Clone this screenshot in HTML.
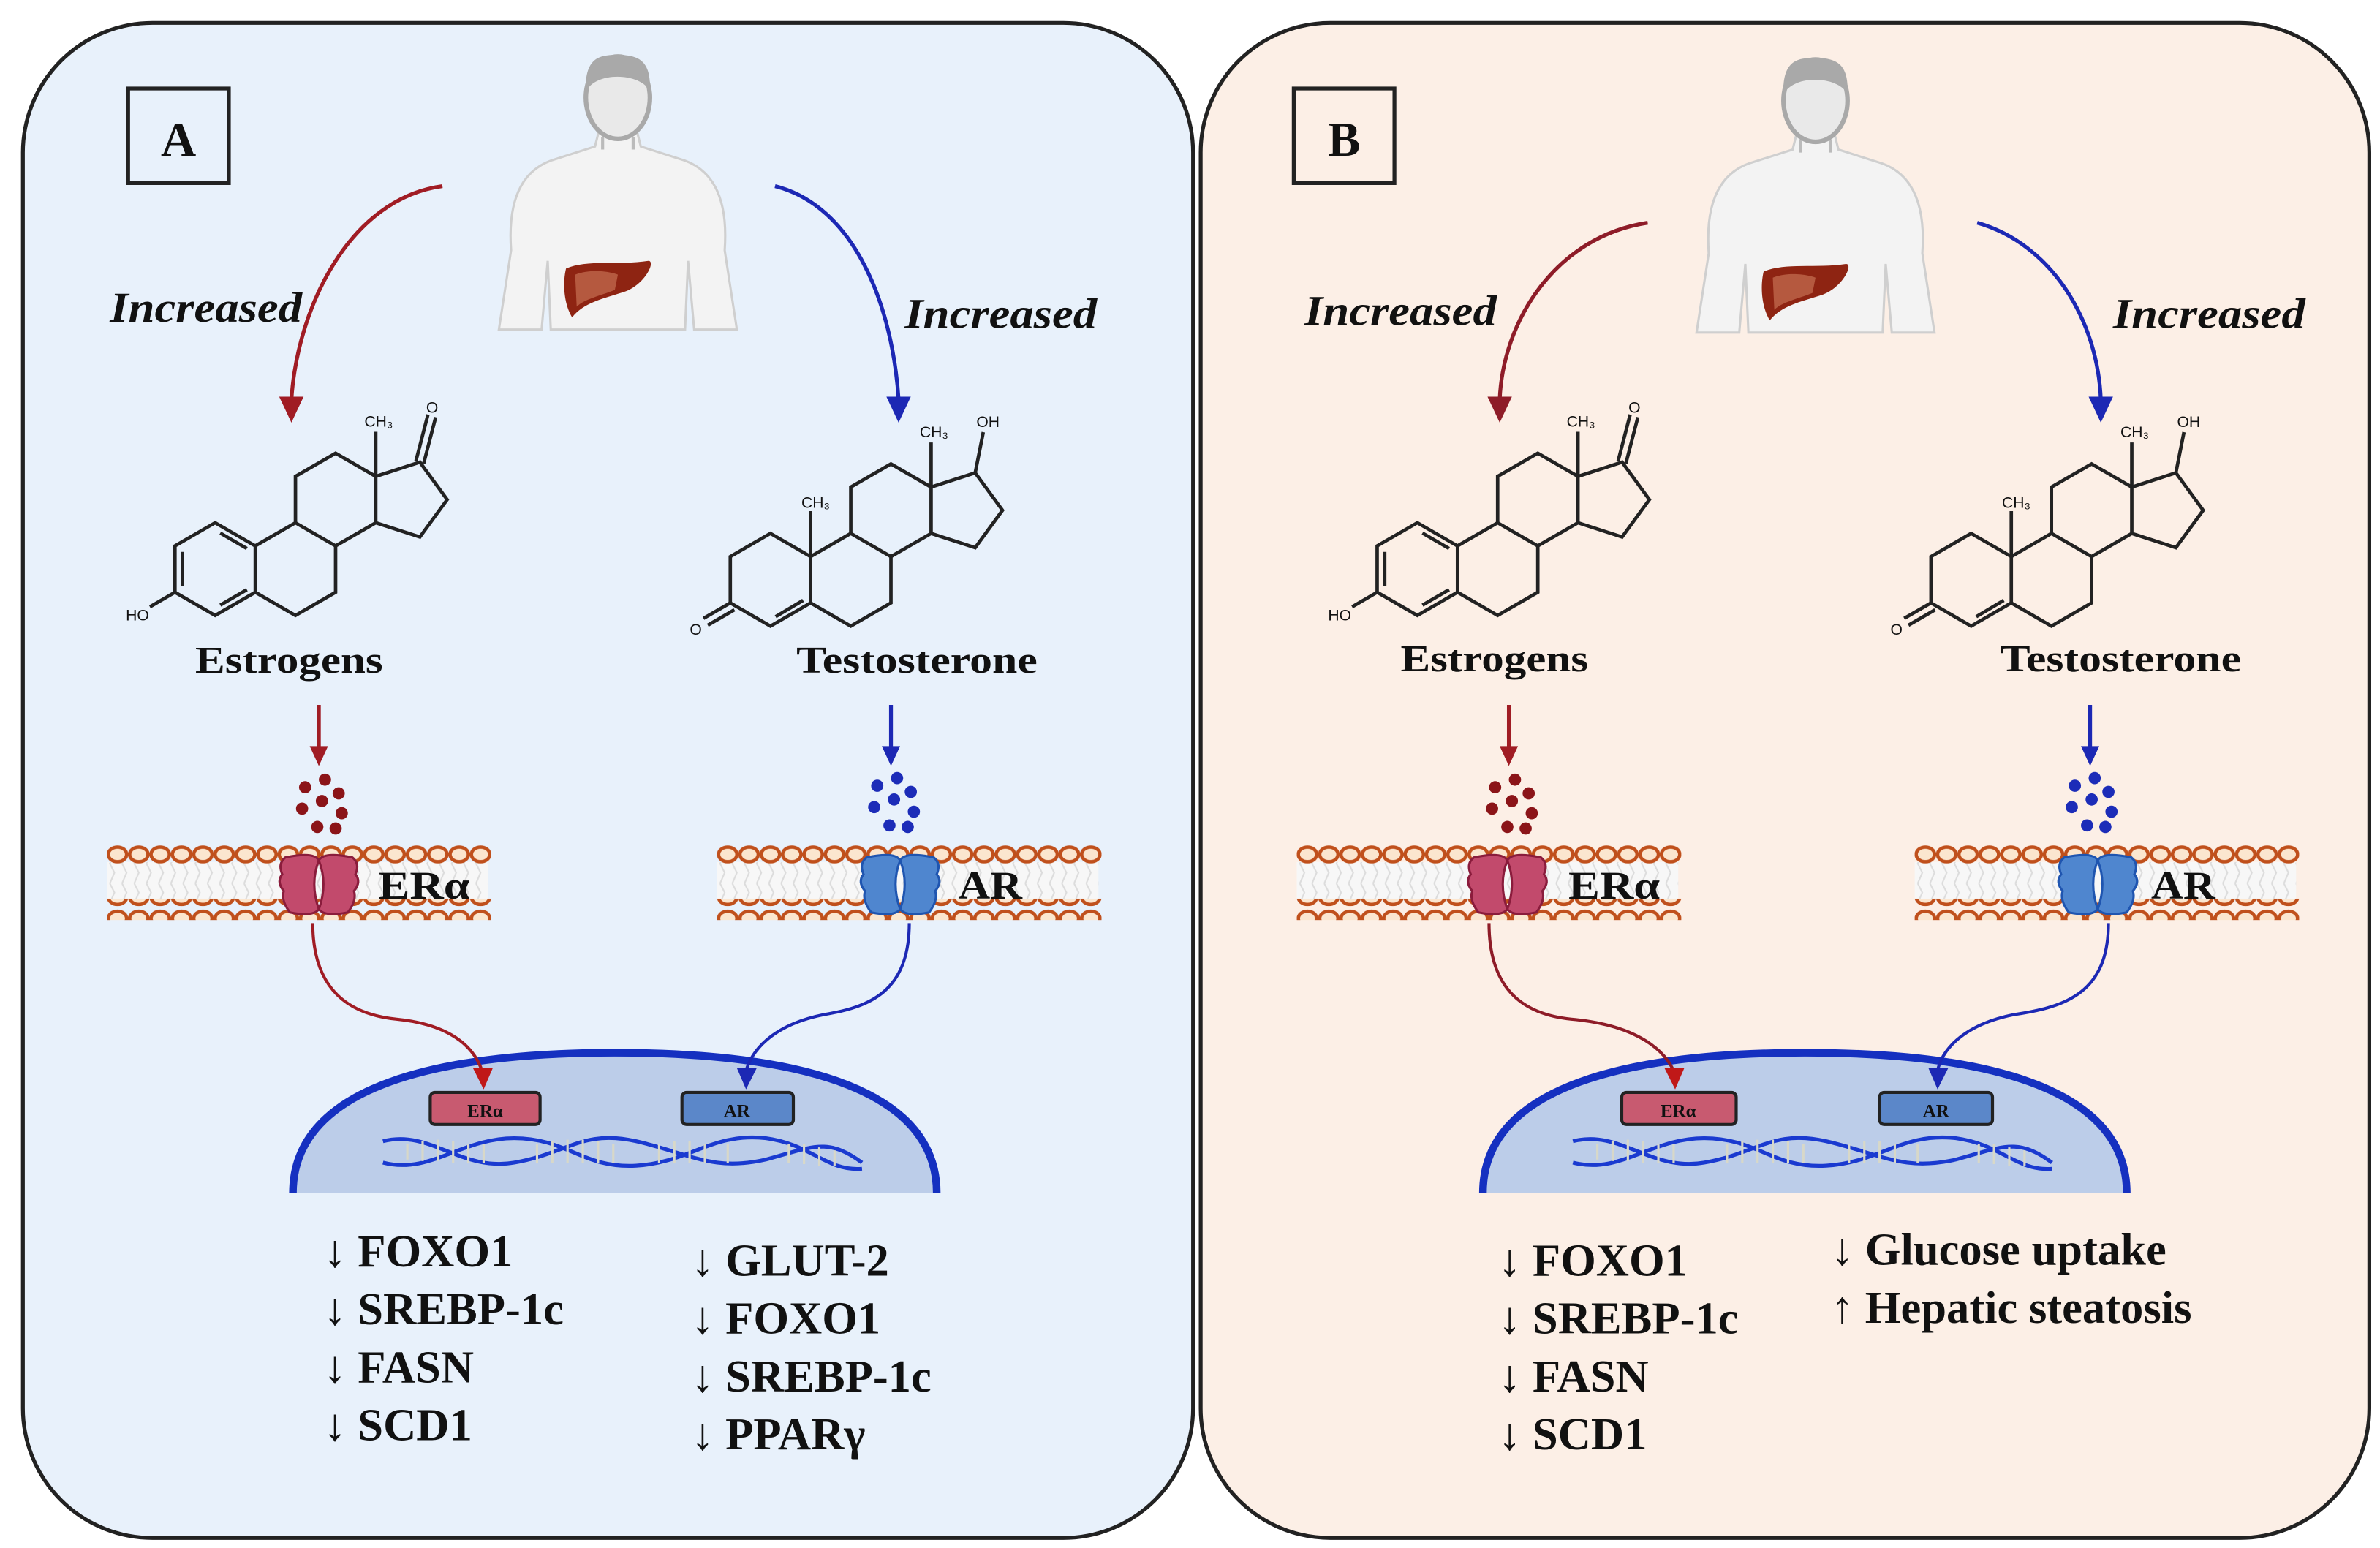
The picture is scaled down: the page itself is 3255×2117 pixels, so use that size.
<!DOCTYPE html>
<html><head><meta charset="utf-8"><style>
html,body{margin:0;padding:0;background:#fff}
svg{display:block}
text{font-family:"Liberation Serif",serif;font-weight:bold;fill:#111}
.mt{font-family:"Liberation Sans",sans-serif;font-weight:normal;font-size:9px}
</style></head><body>
<svg width="3255" height="2117" viewBox="0 0 1560 1014.6" preserveAspectRatio="none" xmlns="http://www.w3.org/2000/svg">
<defs>
<pattern id="bead" width="14" height="14" patternUnits="userSpaceOnUse">
<ellipse cx="7" cy="7" rx="6" ry="4.8" fill="#fbe6cf" stroke="#c0501c" stroke-width="2.2"/>
</pattern>
<pattern id="tail" width="8" height="26" patternUnits="userSpaceOnUse">
<path d="M2,0 L5,6 L2,13 L5,19 L2,26" fill="none" stroke="#dcdcdc" stroke-width="1"/>
</pattern>
<g id="estro" fill="none" stroke="#222" stroke-width="2">
<path d="M0,-27 L23.4,-13.5 L23.4,13.5 L0,27 L-23.4,13.5 L-23.4,-13.5 Z"/>
<path d="M3,-21 L18.5,-12 M-19,-10 L-19,10 M3,21 L18.5,12"/>
<path d="M23.4,-13.5 L46.8,-27 L70.2,-13.5 L70.2,13.5 L46.8,27 L23.4,13.5"/>
<path d="M46.8,-27 L46.8,-54 L70.2,-67.5 L93.6,-54 L93.6,-27 L70.2,-13.5"/>
<path d="M93.6,-54 L119.3,-62.3 L135.2,-40.5 L119.3,-18.7 L93.6,-27"/>
<path d="M93.6,-54 L93.6,-80"/>
<path d="M117,-63 L124,-90 M121.5,-61.5 L128.5,-88.5"/>
<path d="M-23.4,13.5 L-38,22"/>
</g>
<g id="testo" fill="none" stroke="#222" stroke-width="2">
<path d="M0,-27 L23.4,-13.5 L23.4,13.5 L0,27 L-23.4,13.5 L-23.4,-13.5 Z"/>
<path d="M3,21.5 L19,12"/>
<path d="M23.4,-13.5 L46.8,-27 L70.2,-13.5 L70.2,13.5 L46.8,27 L23.4,13.5"/>
<path d="M46.8,-27 L46.8,-54 L70.2,-67.5 L93.6,-54 L93.6,-27 L70.2,-13.5"/>
<path d="M93.6,-54 L119.3,-62.3 L135.2,-40.5 L119.3,-18.7 L93.6,-27"/>
<path d="M93.6,-54 L93.6,-80 M23.4,-13.5 L23.4,-40"/>
<path d="M119.3,-62.3 L124,-86"/>
<path d="M-23.4,13.5 L-39,22.5 M-21,17.5 L-36.5,26.5"/>
</g>
<g id="human">
<path d="M-70,88 C-72,60 -66,35 -40,28 L-15,20 L-12,8 L12,8 L15,20 L40,28 C66,35 72,60 70,88 L78,140 L50,140 L46,95 L44,140 L-44,140 L-46,95 L-50,140 L-78,140 Z" fill="#f3f3f3" stroke="#cfcfcf" stroke-width="1.5"/>
<ellipse cx="0" cy="-12" rx="21" ry="27" fill="#e9e9e9" stroke="#a9a9a9" stroke-width="3"/>
<path d="M-21,-16 C-22,-40 -10,-40 0,-40 C14,-40 22,-36 21,-16 C16,-28 -14,-30 -21,-16Z" fill="#a9a9a9"/>
<path d="M-10,14 L-10,22 M10,14 L10,22" stroke="#bbb" stroke-width="2"/>
<path d="M-34,100 C-20,94 0,98 20,95 C25,95 18,110 5,115 C-10,120 -22,122 -30,132 C-36,122 -36,108 -34,100Z" fill="#8e2412"/>
<path d="M-28,104 C-18,100 -5,102 0,104 L-2,114 C-12,118 -22,120 -27,125Z" fill="#b5593f"/>
</g>
<g id="membrane">
<rect x="0" y="12" width="250" height="26" fill="#f7f7f7"/>
<rect x="0" y="12" width="250" height="26" fill="url(#tail)"/>
<rect x="0" y="0" width="252" height="14" fill="url(#bead)"/>
<rect x="0" y="36" width="252" height="14" fill="url(#bead)"/>
</g>
<g id="recR">
<path d="M3,2 Q22,-2 25,4 Q19,19 25,36 Q21,41 6,38 Q0,30 2,24 Q-3,18 1,13 Q-2,6 3,2Z" fill="#c24a6c" stroke="#8a1c3c" stroke-width="1.5"/>
<path d="M47,2 Q28,-2 25,4 Q31,19 25,36 Q29,41 44,38 Q50,30 48,24 Q53,18 49,13 Q52,6 47,2Z" fill="#c24a6c" stroke="#8a1c3c" stroke-width="1.5"/>
</g>
<g id="recB">
<path d="M3,2 Q22,-2 25,4 Q19,19 25,36 Q21,41 6,38 Q0,30 2,24 Q-3,18 1,13 Q-2,6 3,2Z" fill="#4f86cf" stroke="#1f55b0" stroke-width="1.5"/>
<path d="M47,2 Q28,-2 25,4 Q31,19 25,36 Q29,41 44,38 Q50,30 48,24 Q53,18 49,13 Q52,6 47,2Z" fill="#4f86cf" stroke="#1f55b0" stroke-width="1.5"/>
</g>
<g id="dotsR" fill="#8b1418"><circle cx="-10" cy="-12" r="4"/><circle cx="3" cy="-17" r="4"/><circle cx="12" cy="-8" r="4"/><circle cx="-12" cy="2" r="4"/><circle cx="1" cy="-3" r="4"/><circle cx="14" cy="5" r="4"/><circle cx="-2" cy="14" r="4"/><circle cx="10" cy="15" r="4"/></g>
<g id="dotsB" fill="#1c2cb8"><circle cx="-10" cy="-12" r="4"/><circle cx="3" cy="-17" r="4"/><circle cx="12" cy="-8" r="4"/><circle cx="-12" cy="2" r="4"/><circle cx="1" cy="-3" r="4"/><circle cx="14" cy="5" r="4"/><circle cx="-2" cy="14" r="4"/><circle cx="10" cy="15" r="4"/></g>
<g id="nucleus">
<path d="M0,92 C0,20 100,0 211,0 C322,0 422,20 422,92 Z" fill="#bccde9"/>
<path d="M0,92 C0,20 100,0 211,0 C322,0 422,20 422,92" fill="none" stroke="#1530c0" stroke-width="5"/>
<g fill="none" stroke="#1a3ad0" stroke-width="2.5">
<path d="M59,58 C90,50 110,78 145,72 C180,66 190,50 225,58 C260,66 275,78 310,70 C340,62 350,55 373,72"/>
<path d="M59,72 C90,80 110,56 145,56 C180,56 190,76 225,74 C260,72 275,52 310,56 C340,60 350,78 373,76"/>
</g>
<g stroke="#d8d8c8" stroke-width="1.5">
<path d="M75,60 v10 M85,58 v13 M95,57 v14 M105,58 v14 M115,60 v12 M125,60 v12 M160,60 v12 M170,58 v14 M180,57 v15 M190,57 v15 M200,58 v14 M210,60 v12 M240,60 v12 M250,58 v14 M260,58 v14 M270,60 v12 M285,60 v12 M325,60 v12 M335,60 v13 M345,62 v12 M355,64 v10"/>
</g>
</g>
</defs>

<!-- Panels -->
<rect x="15" y="15" width="767" height="993" rx="85" ry="85" fill="#e8f1fb" stroke="#222" stroke-width="2.5"/>
<rect x="787" y="15" width="766" height="993" rx="85" ry="85" fill="#fcefe6" stroke="#222" stroke-width="2.5"/>

<!-- ===== Panel A ===== -->
<rect x="84" y="58" width="66" height="62" fill="none" stroke="#222" stroke-width="2.5"/>
<text x="117" y="102" font-size="32" text-anchor="middle">A</text>
<use href="#human" x="405" y="76"/>
<path d="M290,122 C230,130 195,200 191,262" fill="none" stroke="#a01c24" stroke-width="2.5"/>
<polygon points="183,260 199,260 191,277" fill="#a01c24"/>
<path d="M508,122 C560,135 585,200 589,262" fill="none" stroke="#1c28b4" stroke-width="2.5"/>
<polygon points="581,260 597,260 589,277" fill="#1c28b4"/>
<text x="72" y="211" font-size="28" font-style="italic" textLength="126" lengthAdjust="spacingAndGlyphs">Increased</text>
<text x="593" y="215" font-size="28" font-style="italic" textLength="126" lengthAdjust="spacingAndGlyphs">Increased</text>

<g transform="translate(141,373) scale(1.125)"><use href="#estro"/>
<text class="mt" x="87" y="-83">CH₃</text><text class="mt" x="123" y="-91">O</text><text class="mt" x="-52" y="30">HO</text></g>
<g transform="translate(505,380) scale(1.125)"><use href="#testo"/>
<text class="mt" x="87" y="-83">CH₃</text><text class="mt" x="18" y="-42">CH₃</text><text class="mt" x="120" y="-89">OH</text><text class="mt" x="-47" y="32">O</text></g>
<text x="128" y="441" font-size="25" textLength="123" lengthAdjust="spacingAndGlyphs">Estrogens</text>
<text x="522" y="441" font-size="25" textLength="158" lengthAdjust="spacingAndGlyphs">Testosterone</text>

<path d="M209,462 V490" stroke="#a01c24" stroke-width="2.5"/><polygon points="203,489 215,489 209,502" fill="#a01c24"/>
<path d="M584,462 V490" stroke="#1c28b4" stroke-width="2.5"/><polygon points="578,489 590,489 584,502" fill="#1c28b4"/>
<use href="#dotsR" x="210" y="528"/>
<use href="#dotsB" x="585" y="527"/>
<use href="#membrane" x="70" y="553"/>
<use href="#membrane" x="470" y="553"/>
<use href="#recR" x="184" y="560"/>
<use href="#recB" x="565" y="560"/>
<text x="248" y="589" font-size="26" textLength="60" lengthAdjust="spacingAndGlyphs">ERα</text>
<text x="628" y="589" font-size="26" textLength="42" lengthAdjust="spacingAndGlyphs">AR</text>

<use href="#nucleus" x="192" y="690"/>
<path d="M205,605 C205,650 230,665 260,668 C300,672 312,690 316,702" fill="none" stroke="#a01c24" stroke-width="2"/>
<polygon points="310,700 323,700 317,714" fill="#c01818"/>
<path d="M596,605 C596,650 570,660 540,665 C505,672 492,690 489,702" fill="none" stroke="#1c28b4" stroke-width="2"/>
<polygon points="483,700 496,700 489,714" fill="#1c28b4"/>
<rect x="282" y="716" width="72" height="21" rx="3" fill="#c85a70" stroke="#222" stroke-width="2"/>
<text x="318" y="732" font-size="12" text-anchor="middle">ERα</text>
<rect x="447" y="716" width="73" height="21" rx="3" fill="#5b87c9" stroke="#222" stroke-width="2"/>
<text x="483" y="732" font-size="12" text-anchor="middle">AR</text>

<g font-size="30">
<text x="212" y="830">↓ FOXO1</text>
<text x="212" y="868">↓ SREBP-1c</text>
<text x="212" y="906">↓ FASN</text>
<text x="212" y="944">↓ SCD1</text>
<text x="453" y="836">↓ GLUT-2</text>
<text x="453" y="874">↓ FOXO1</text>
<text x="453" y="912">↓ SREBP-1c</text>
<text x="453" y="950">↓ PPARγ</text>
</g>

<!-- ===== Panel B ===== -->
<rect x="848" y="58" width="66" height="62" fill="none" stroke="#222" stroke-width="2.5"/>
<text x="881" y="102" font-size="32" text-anchor="middle">B</text>
<use href="#human" x="1190" y="78"/>
<path d="M1080,146 C1020,155 985,210 983,262" fill="none" stroke="#8e1c28" stroke-width="2.5"/>
<polygon points="975,260 991,260 983,277" fill="#8e1c28"/>
<path d="M1296,146 C1345,160 1375,210 1377,262" fill="none" stroke="#1c28b4" stroke-width="2.5"/>
<polygon points="1369,260 1385,260 1377,277" fill="#1c28b4"/>
<text x="855" y="213" font-size="28" font-style="italic" textLength="126" lengthAdjust="spacingAndGlyphs">Increased</text>
<text x="1385" y="215" font-size="28" font-style="italic" textLength="126" lengthAdjust="spacingAndGlyphs">Increased</text>

<g transform="translate(929,373) scale(1.125)"><use href="#estro"/>
<text class="mt" x="87" y="-83">CH₃</text><text class="mt" x="123" y="-91">O</text><text class="mt" x="-52" y="30">HO</text></g>
<g transform="translate(1292,380) scale(1.125)"><use href="#testo"/>
<text class="mt" x="87" y="-83">CH₃</text><text class="mt" x="18" y="-42">CH₃</text><text class="mt" x="120" y="-89">OH</text><text class="mt" x="-47" y="32">O</text></g>
<text x="918" y="440" font-size="25" textLength="123" lengthAdjust="spacingAndGlyphs">Estrogens</text>
<text x="1311" y="440" font-size="25" textLength="158" lengthAdjust="spacingAndGlyphs">Testosterone</text>

<path d="M989,462 V490" stroke="#a01c24" stroke-width="2.5"/><polygon points="983,489 995,489 989,502" fill="#a01c24"/>
<path d="M1370,462 V490" stroke="#1c28b4" stroke-width="2.5"/><polygon points="1364,489 1376,489 1370,502" fill="#1c28b4"/>
<use href="#dotsR" x="990" y="528"/>
<use href="#dotsB" x="1370" y="527"/>
<use href="#membrane" x="850" y="553"/>
<use href="#membrane" x="1255" y="553"/>
<use href="#recR" x="963" y="560"/>
<use href="#recB" x="1350" y="560"/>
<text x="1028" y="589" font-size="26" textLength="60" lengthAdjust="spacingAndGlyphs">ERα</text>
<text x="1410" y="589" font-size="26" textLength="42" lengthAdjust="spacingAndGlyphs">AR</text>

<use href="#nucleus" x="972" y="690"/>
<path d="M976,605 C976,650 1000,665 1030,668 C1075,672 1092,690 1097,702" fill="none" stroke="#8e1c28" stroke-width="2"/>
<polygon points="1091,700 1104,700 1098,714" fill="#c01818"/>
<path d="M1382,605 C1382,650 1355,660 1320,665 C1285,672 1272,690 1270,702" fill="none" stroke="#1c28b4" stroke-width="2"/>
<polygon points="1264,700 1277,700 1270,714" fill="#1c28b4"/>
<rect x="1063" y="716" width="75" height="21" rx="3" fill="#c85a70" stroke="#222" stroke-width="2"/>
<text x="1100" y="732" font-size="12" text-anchor="middle">ERα</text>
<rect x="1232" y="716" width="74" height="21" rx="3" fill="#5b87c9" stroke="#222" stroke-width="2"/>
<text x="1269" y="732" font-size="12" text-anchor="middle">AR</text>

<g font-size="30">
<text x="982" y="836">↓ FOXO1</text>
<text x="982" y="874">↓ SREBP-1c</text>
<text x="982" y="912">↓ FASN</text>
<text x="982" y="950">↓ SCD1</text>
<text x="1200" y="829">↓ Glucose uptake</text>
<text x="1200" y="867">↑ Hepatic steatosis</text>
</g>
</svg>
</body></html>
